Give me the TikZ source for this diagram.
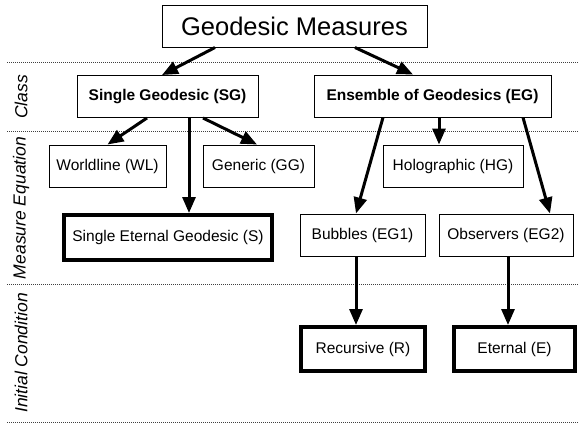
\documentclass[tikz,border=0pt]{standalone}
\usepackage{fontspec}
\setmainfont{Liberation Sans}
\usetikzlibrary{arrows.meta}

\begin{document}
\begin{tikzpicture}[x=1pt,y=-1pt,font=\fontsize{15.5}{18}\selectfont,
    every node/.style={inner sep=0pt},
    box/.style={draw,line width=1pt,minimum height=42pt},
    bigbox/.style={draw,line width=4pt,minimum height=44pt},
    arr/.style={line width=3pt,-{Triangle[length=16pt,width=13pt]}},
    sep/.style={black!75,line width=0.8pt,dash pattern=on 1pt off 1pt},
    band/.style={rotate=90,font=\fontsize{17.5}{20}\selectfont\itshape}]
  \useasboundingbox (0,0) rectangle (579,424);

  \foreach \y in {62,131,284,422}
    \draw[sep] (7,\y) -- (579,\y);

  \node[band] (class) at (21,97) {Class};
  \node[band] (meq) at (21,208) {Measure Equation};
  \node[band] (init) at (21,353) {Initial Condition};

  \node[box,minimum width=265pt,font=\fontsize{25.5}{30}\selectfont] (top) at (294.5,26) {Geodesic Measures};

  \node[box,minimum width=181pt,font=\fontsize{15.5}{18}\selectfont\bfseries] (SG) at (167.5,96.5) {Single Geodesic (SG)};
  \node[box,minimum width=237pt,font=\fontsize{15.5}{18}\selectfont\bfseries] (EG) at (432.5,96) {Ensemble of Geodesics (EG)};

  \node[box,minimum width=117pt] (WL) at (107.5,166) {Worldline (WL)};
  \node[box,minimum width=111pt] (GG) at (258.5,166) {Generic (GG)};
  \node[box,minimum width=140pt] (HG) at (453,166) {Holographic (HG)};
  \node[bigbox,minimum width=208pt,minimum height=45pt] (S) at (168,237.5) {Single Eternal Geodesic (S)};
  \node[box,minimum width=125pt] (EG1) at (362.5,235) {Bubbles (EG1)};
  \node[box,minimum width=134pt] (EG2) at (506,235) {Observers (EG2)};

  \node[bigbox,minimum width=124pt] (R) at (363,349) {Recursive (R)};
  \node[bigbox,minimum width=121pt] (E) at (514.5,349) {Eternal (E)};

  \draw[arr] ([xshift=-79.5pt]top.south) -- ([xshift=-5.5pt]SG.north);
  \draw[arr] ([xshift=60.5pt]top.south) -- ([xshift=-19.5pt]EG.north);
  \draw[arr] ([xshift=-20.5pt]SG.south) -- (WL.north);
  \draw[arr] ([xshift=21.5pt]SG.south) -- ([xshift=21pt]S.north);
  \draw[arr] ([xshift=35.5pt]SG.south) -- ([xshift=-1.5pt]GG.north);
  \draw[arr] ([xshift=6.5pt]EG.south) -- ([xshift=-14pt]HG.north);
  \draw[arr] ([xshift=-49.5pt]EG.south) -- ([xshift=-6.5pt]EG1.north);
  \draw[arr] ([xshift=90.5pt]EG.south) -- ([xshift=44pt]EG2.north);
  \draw[arr] ([xshift=-6.5pt]EG1.south) -- ([xshift=-7pt]R.north);
  \draw[arr] ([xshift=2pt]EG2.south) -- ([xshift=-6.5pt]E.north);
\end{tikzpicture}
\end{document}
